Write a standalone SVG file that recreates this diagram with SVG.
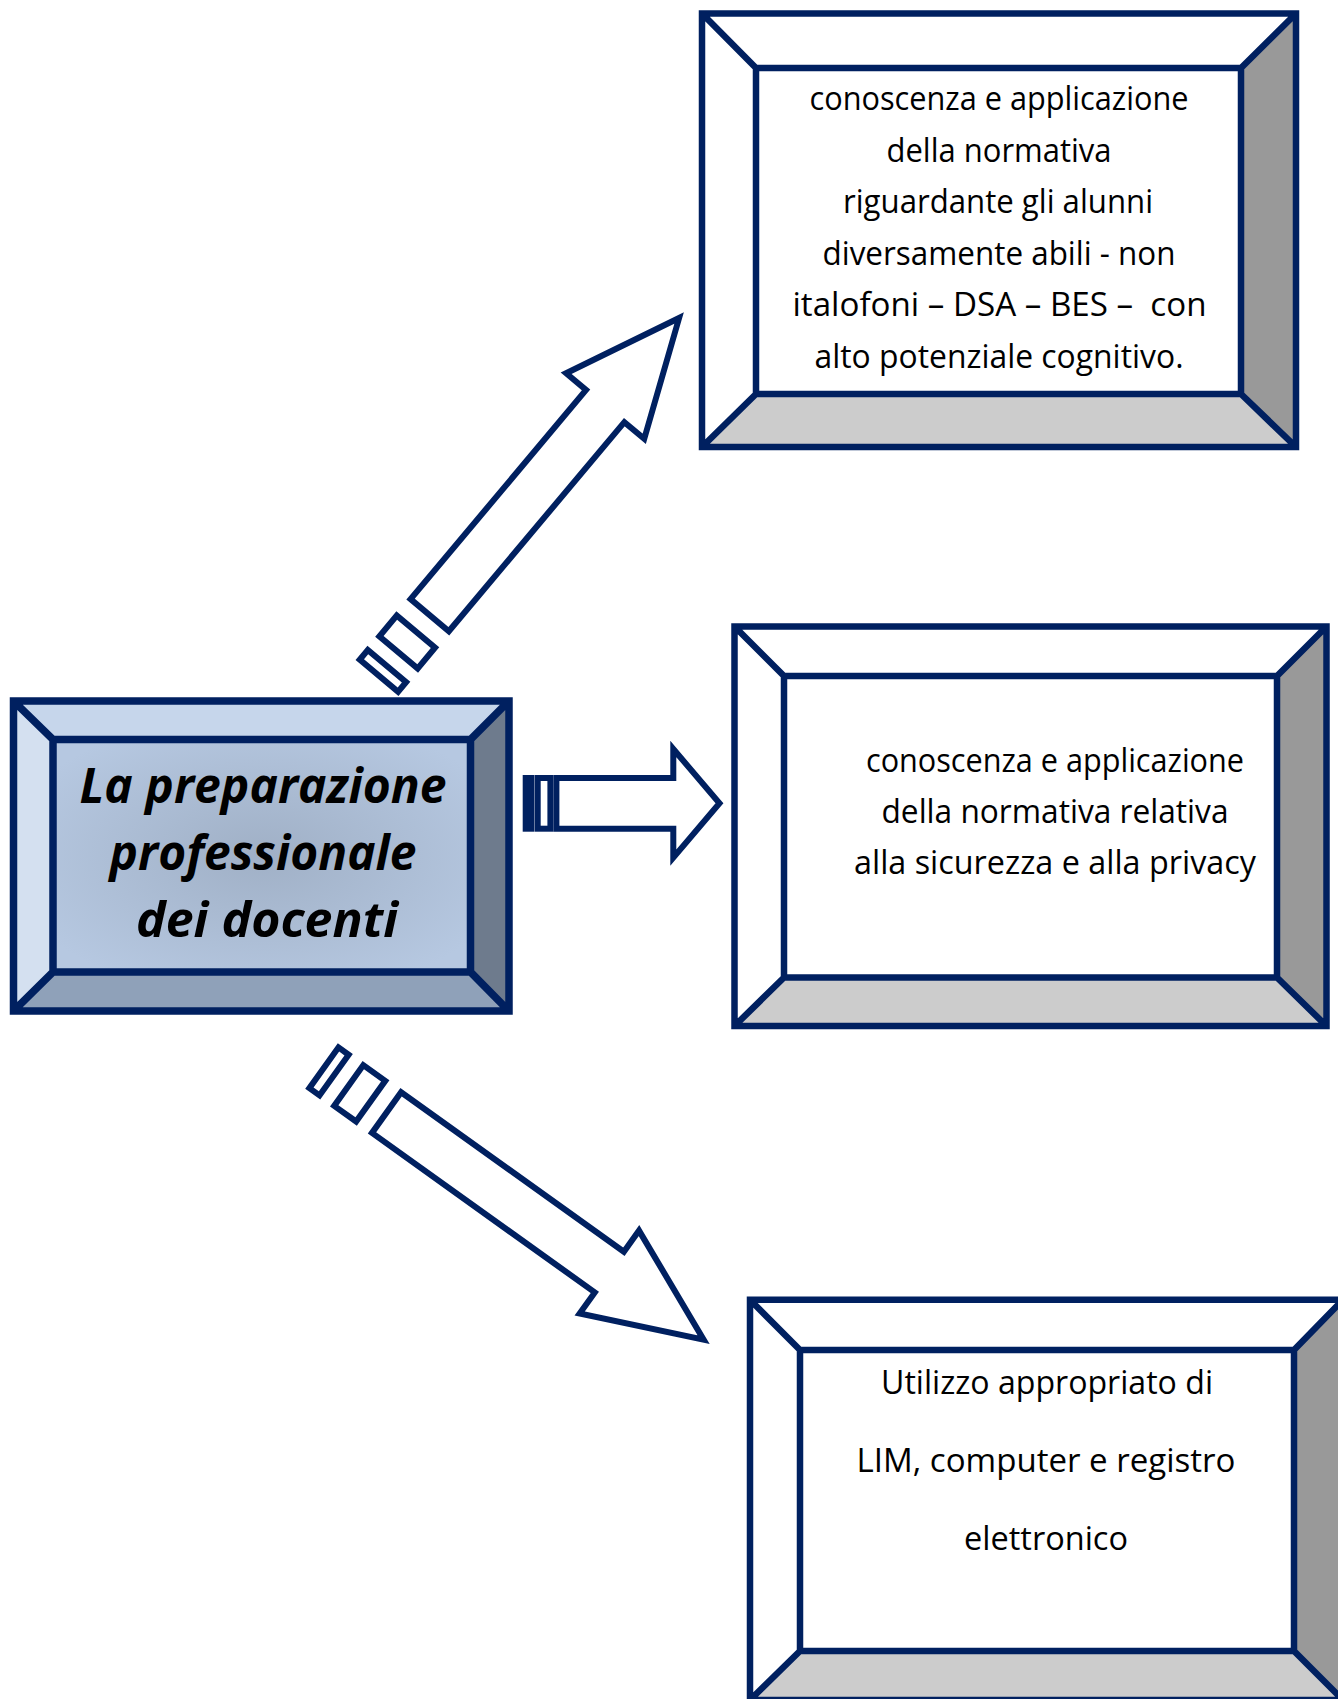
<svg xmlns="http://www.w3.org/2000/svg" width="1338" height="1699" viewBox="0 0 1338 1699">
<defs>
<radialGradient id="innerGrad" cx="0.5" cy="0.5" r="0.62">
<stop offset="0" stop-color="#a0b0c6"/>
<stop offset="1" stop-color="#b6c8e1"/>
</radialGradient>
<style>
.ln{fill:none;stroke:#002060;stroke-linejoin:miter;stroke-miterlimit:10}
.main .ln{stroke-width:7.5}
.side .ln{stroke-width:6.5}
.arrow{fill:#fff;stroke:#002060;stroke-width:6;stroke-linejoin:miter;stroke-miterlimit:10}
.t{font-family:'Open Sans','DejaVu Sans',sans-serif;font-size:32px;fill:#000;text-anchor:middle}
.tm{font-family:'Open Sans','DejaVu Sans',sans-serif;font-size:48px;font-weight:bold;font-style:italic;fill:#000;text-anchor:middle}
.wh{fill:#ffffff}
.g6{fill:#999999}
.g8{fill:#cccccc}
</style>
</defs>
<rect x="0" y="0" width="1338" height="1699" fill="#ffffff"/>

<g id="connectors">
<g id="arrow-ne" transform="translate(377,678) rotate(-50)">
<rect class="arrow" x="3" y="-25" width="12.5" height="50"/>
<rect class="arrow" x="33.5" y="-25" width="27" height="50"/>
<path class="arrow" d="M82,-25 H355 V-51 L470,0 L355,51 V25 H82 Z"/>
</g>
<g id="arrow-e">
<rect class="arrow" x="525.7" y="778" width="5.7" height="50.7"/>
<rect class="arrow" x="537.7" y="778" width="12.7" height="50.7"/>
<path class="arrow" d="M556.4,778 H673.3 V749 L719.5,803.3 L673.3,857.7 V828.7 H556.4 Z"/>
</g>
<g id="arrow-se" transform="translate(321.5,1066) rotate(35.6)">
<rect class="arrow" x="3" y="-25" width="12.5" height="50"/>
<rect class="arrow" x="33.5" y="-25" width="27" height="50"/>
<path class="arrow" d="M80,-25 H354 V-51 L470,0 L354,51 V25 H80 Z"/>
</g>
</g>

<g id="node-main" class="main">
<polygon points="13.5,701 509,701 470.5,739.5 53,739.5" fill="#c6d6eb"/>
<polygon points="509,701 509,1011 470.5,972 470.5,739.5" fill="#6e7b8d"/>
<polygon points="13.5,1011 509,1011 470.5,972 53,972" fill="#8fa1b9"/>
<polygon points="13.5,701 53,739.5 53,972 13.5,1011" fill="#d4e0f0"/>
<rect x="53" y="739.5" width="417.5" height="232.5" fill="url(#innerGrad)"/>
<path class="ln" d="M13.5,701H509V1011H13.5Z M53,739.5H470.5V972H53Z M13.5,701L53,739.5 M509,701L470.5,739.5 M509,1011L470.5,972 M13.5,1011L53,972"/>
<text class="tm" x="263" y="803" textLength="367" lengthAdjust="spacingAndGlyphs">La preparazione</text>
<text class="tm" x="263" y="870" textLength="307" lengthAdjust="spacingAndGlyphs">professionale</text>
<text class="tm" x="267" y="937" textLength="262" lengthAdjust="spacingAndGlyphs">dei docenti</text>
</g>

<g id="node-normativa-alunni" class="side">
<polygon class="wh" points="702,13.5 1296,13.5 1241,68 756,68"/>
<polygon class="g6" points="1296,13.5 1296,447 1241,394 1241,68"/>
<polygon class="g8" points="702,447 1296,447 1241,394 756,394"/>
<polygon class="wh" points="702,13.5 756,68 756,394 702,447"/>
<rect class="wh" x="756" y="68" width="485" height="326"/>
<path class="ln" d="M702,13.5H1296V447H702Z M756,68H1241V394H756Z M702,13.5L756,68 M1296,13.5L1241,68 M1296,447L1241,394 M702,447L756,394"/>
<text class="t" x="999" y="110" textLength="379" lengthAdjust="spacingAndGlyphs">conoscenza e applicazione</text>
<text class="t" x="999" y="162" textLength="225" lengthAdjust="spacingAndGlyphs">della normativa</text>
<text class="t" x="998" y="213" textLength="310" lengthAdjust="spacingAndGlyphs">riguardante gli alunni</text>
<text class="t" x="999" y="265" textLength="353" lengthAdjust="spacingAndGlyphs">diversamente abili - non</text>
<text class="t" x="999.5" y="316" textLength="414" lengthAdjust="spacingAndGlyphs" xml:space="preserve">italofoni – DSA – BES –  con</text>
<text class="t" x="999" y="368" textLength="369" lengthAdjust="spacingAndGlyphs">alto potenziale cognitivo.</text>
</g>

<g id="node-normativa-sicurezza" class="side">
<polygon class="wh" points="734.5,626.5 1326.5,626.5 1277,676 784,676"/>
<polygon class="g6" points="1326.5,626.5 1326.5,1026 1277,977.5 1277,676"/>
<polygon class="g8" points="734.5,1026 1326.5,1026 1277,977.5 784,977.5"/>
<polygon class="wh" points="734.5,626.5 784,676 784,977.5 734.5,1026"/>
<rect class="wh" x="784" y="676" width="493" height="301.5"/>
<path class="ln" d="M734.5,626.5H1326.5V1026H734.5Z M784,676H1277V977.5H784Z M734.5,626.5L784,676 M1326.5,626.5L1277,676 M1326.5,1026L1277,977.5 M734.5,1026L784,977.5"/>
<text class="t" x="1055" y="772" textLength="378" lengthAdjust="spacingAndGlyphs">conoscenza e applicazione</text>
<text class="t" x="1055" y="823" textLength="347" lengthAdjust="spacingAndGlyphs">della normativa relativa</text>
<text class="t" x="1055" y="874" textLength="402" lengthAdjust="spacingAndGlyphs">alla sicurezza e alla privacy</text>
</g>

<g id="node-utilizzo" class="side">
<polygon class="wh" points="750,1299.7 1343,1299.7 1294,1350 800,1350"/>
<polygon class="g6" points="1343,1299.7 1343,1700 1294,1651 1294,1350"/>
<polygon class="g8" points="750,1700 1343,1700 1294,1651 800,1651"/>
<polygon class="wh" points="750,1299.7 800,1350 800,1651 750,1700"/>
<rect class="wh" x="800" y="1350" width="494" height="301"/>
<path class="ln" d="M750,1299.7H1343V1700H750Z M800,1350H1294V1651H800Z M750,1299.7L800,1350 M1343,1299.7L1294,1350 M1343,1700L1294,1651 M750,1700L800,1651"/>
<text class="t" x="1047" y="1394" textLength="332" lengthAdjust="spacingAndGlyphs">Utilizzo appropriato di</text>
<text class="t" x="1046" y="1472" textLength="379" lengthAdjust="spacingAndGlyphs">LIM, computer e registro</text>
<text class="t" x="1046" y="1550" textLength="164" lengthAdjust="spacingAndGlyphs">elettronico</text>
</g>
</svg>
